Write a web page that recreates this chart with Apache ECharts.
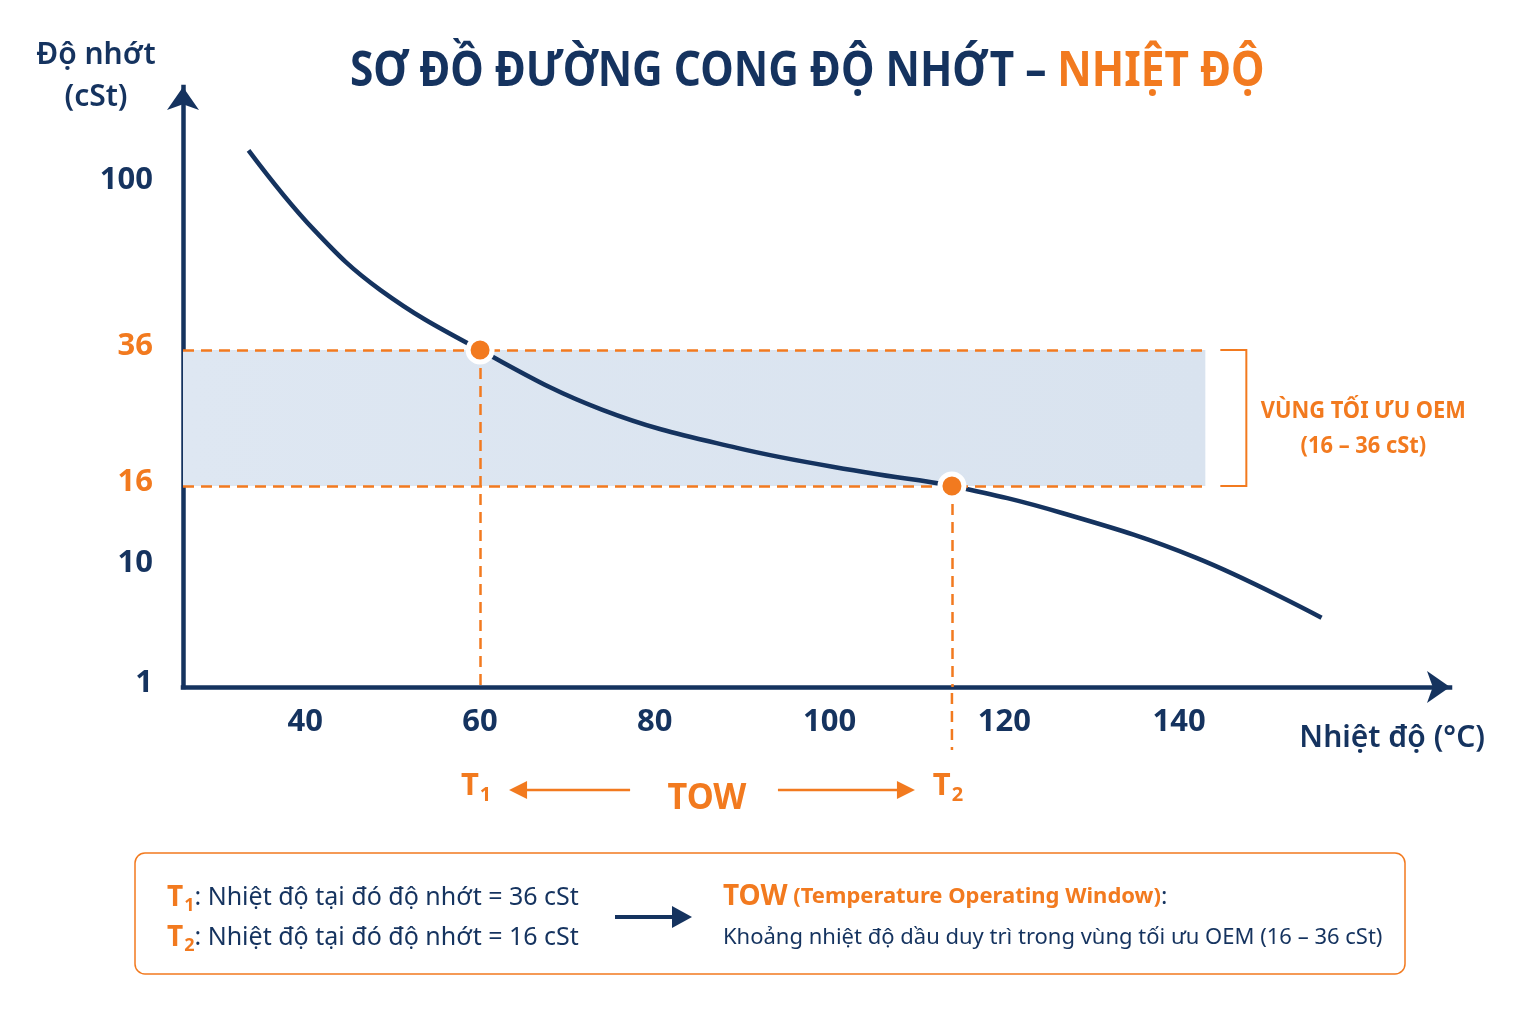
<!DOCTYPE html>
<html lang="vi">
<head>
<meta charset="utf-8">
<title>Sơ đồ đường cong độ nhớt – nhiệt độ</title>
<script src="https://cdn.jsdelivr.net/npm/echarts@6/dist/echarts.min.js"></script>
<style>
  html, body { margin: 0; padding: 0; background: #ffffff; }
  #chart { width: 1536px; height: 1024px; }
</style>
</head>
<body>
<div id="chart"></div>
<script>
// trục hoành: nhiệt độ (°C)
const tempTicks = [40, 60, 80, 100, 120, 140];
// trục tung: nhãn độ nhớt (cSt) và thang sơ đồ (không tuyến tính)
const viscTicks = [1, 10, 16, 36, 100];
const viscScale = [0, 1.2, 2.01, 3.37, 5.03];

// đường cong độ nhớt – nhiệt độ
const curveTemp = [33.5, 41, 48.6, 60, 74, 89.4, 104.6, 114, 126.6, 141.9, 156.3];
const curveVisc = [113, 82.3, 59.1, 36, 27.2, 21.6, 17.9, 16, 14, 10.7, 6.2];

// vùng tối ưu OEM (cSt) và nhiệt độ kết thúc vùng tô
const oemRange = [16, 36];
const oemBandEnd = 143;

// T1, T2
const tIndex = ['1', '2'];
const tTemps = [60, 114];
const tVisc = [36, 16];

const NAVY = '#15335f';
const ORANGE = '#f27a1f';
const FONT = 'Noto Sans';
const X_MIN = 26, X_MAX = 171;

// độ nhớt -> vị trí trên thang sơ đồ (nội suy tuyến tính từng đoạn giữa các nhãn)
const toScale = v => {
  let i = 0;
  while (i < viscTicks.length - 2 && v > viscTicks[i + 1]) i++;
  const v0 = viscTicks[i], v1 = viscTicks[i + 1];
  return viscScale[i] + (v - v0) / (v1 - v0) * (viscScale[i + 1] - viscScale[i]);
};

const curveData = curveTemp.map((t, i) => [t, toScale(curveVisc[i])]);
const dashStyle = { color: ORANGE, width: 2.5, type: [11, 7] };

const option = {
  backgroundColor: '#ffffff',
  animation: false,
  textStyle: { fontFamily: FONT },
  grid: { left: 183, right: 86, top: 87, bottom: 337 },
  xAxis: {
    type: 'value',
    min: X_MIN,
    max: X_MAX,
    name: 'Nhiệt độ (°C)',
    nameLocation: 'end',
    nameGap: 35,
    nameTextStyle: {
      color: NAVY, fontSize: 30, fontWeight: 600, fontFamily: FONT,
      align: 'right', verticalAlign: 'top', padding: [36, 0, 0, 0]
    },
    axisLine: {
      onZero: false,
      symbol: ['none', 'arrow'],
      symbolSize: [24, 23],
      lineStyle: { color: NAVY, width: 4.5, cap: 'square' }
    },
    axisTick: { show: false },
    splitLine: { show: false },
    axisLabel: {
      customValues: tempTicks,
      margin: 20,
      color: NAVY,
      fontSize: 31,
      fontWeight: 'bold'
    }
  },
  yAxis: {
    type: 'value',
    min: 0,
    max: 6,
    name: 'Độ nhớt\n(cSt)',
    nameLocation: 'end',
    nameGap: 11,
    nameTextStyle: {
      color: NAVY, fontSize: 30, fontWeight: 600, fontFamily: FONT, lineHeight: 42,
      align: 'center', verticalAlign: 'middle', padding: [0, 174, 0, 0]
    },
    axisLine: {
      onZero: false,
      symbol: ['none', 'arrow'],
      symbolSize: [24, 23],
      lineStyle: { color: NAVY, width: 4.5, cap: 'square' }
    },
    axisTick: { show: false },
    splitLine: { show: false },
    axisLabel: {
      customValues: viscScale,
      margin: 30,
      padding: [0, 0, 7, 0],
      formatter: val => {
        const i = viscScale.findIndex(s => Math.abs(s - val) < 1e-6);
        if (i < 0) return '';
        const v = viscTicks[i];
        return oemRange.includes(v) ? `{o|${v}}` : `{n|${v}}`;
      },
      rich: {
        n: { color: NAVY, fontSize: 31, fontWeight: 'bold', fontFamily: FONT },
        o: { color: ORANGE, fontSize: 31, fontWeight: 'bold', fontFamily: FONT }
      }
    }
  },
  series: [
    {
      type: 'line',
      name: 'Độ nhớt',
      data: curveData,
      smooth: 0.4,
      symbol: 'none',
      z: 3,
      lineStyle: { color: NAVY, width: 4.5 },
      markArea: {
        silent: true,
        itemStyle: {
          color: new echarts.graphic.LinearGradient(0, 0, 1, 0, [
            { offset: 0, color: '#dee7f2' },
            { offset: 1, color: '#d9e3ef' }
          ])
        },
        data: [[
          { coord: [X_MIN, toScale(oemRange[0])] },
          { coord: [oemBandEnd, toScale(oemRange[1])] }
        ]]
      },
      markLine: {
        silent: true,
        symbol: ['none', 'none'],
        label: { show: false },
        lineStyle: dashStyle,
        data: [
          [{ coord: [X_MIN, toScale(oemRange[1])] }, { coord: [oemBandEnd, toScale(oemRange[1])] }],
          [{ coord: [X_MIN, toScale(oemRange[0])] }, { coord: [oemBandEnd, toScale(oemRange[0])] }],
          [{ coord: [tTemps[0], toScale(tVisc[0])] }, { coord: [tTemps[0], 0] }],
          [{ coord: [tTemps[1], toScale(tVisc[1])] }, { coord: [tTemps[1], 0] }]
        ]
      }
    },
    {
      type: 'scatter',
      name: 'T',
      z: 5,
      symbolSize: 24,
      itemStyle: { color: ORANGE, borderColor: '#ffffff', borderWidth: 5, opacity: 1 },
      data: tTemps.map((t, i) => [t, toScale(tVisc[i])])
    }
  ]
};

const chart = echarts.init(document.getElementById('chart'));
chart.setOption(option);

// chú thích: vị trí lấy từ thang trục của biểu đồ
const px = (x, y) => chart.convertToPixel({ gridIndex: 0 }, [x, y]);
const [t1x, y36] = px(tTemps[0], toScale(oemRange[1]));
const [t2x, y16] = px(tTemps[1], toScale(oemRange[0]));
const [, axisY] = px(X_MIN, 0);
const [bandX] = px(oemBandEnd, 0);

const rowY = 790;
const arrowHead = (tipX, y, dir, color, len, half) => ({
  type: 'polygon',
  shape: { points: [[tipX, y], [tipX - dir * len, y - half], [tipX - dir * len, y + half]] },
  style: { fill: color }
});

const graphics = [
  // tiêu đề
  {
    type: 'text',
    x: 350,
    y: 72,
    scaleX: 0.883,
    style: {
      text: '{a|SƠ ĐỒ ĐƯỜNG CONG ĐỘ NHỚT – }{b|NHIỆT ĐỘ}',
      verticalAlign: 'middle',
      rich: {
        a: { fill: NAVY, font: `bold 48px "${FONT}"` },
        b: { fill: ORANGE, font: `bold 48px "${FONT}"` }
      }
    }
  },
  // phần kéo dài của đường T2 dưới trục hoành
  {
    type: 'line',
    shape: { x1: t2x, y1: axisY + 6, x2: t2x, y2: 750 },
    style: { stroke: ORANGE, lineWidth: 2.5, lineDash: [11, 7] }
  },
  // nhãn T1, T2
  ...tIndex.map((n, i) => ({
    type: 'text',
    x: (i === 0 ? t1x : t2x) - 4,
    y: rowY - 4,
    style: {
      text: `{t|T}{s|${n}}`,
      align: 'center',
      verticalAlign: 'middle',
      rich: {
        t: { fill: ORANGE, font: `bold 31px "${FONT}"`, height: 40 },
        s: { fill: ORANGE, font: `bold 20px "${FONT}"`, height: 40, padding: [18, 0, 0, 1] }
      }
    }
  })),
  // mũi tên TOW
  { type: 'line', shape: { x1: t1x + 45, y1: rowY, x2: t1x + 150, y2: rowY }, style: { stroke: ORANGE, lineWidth: 2.5 } },
  arrowHead(t1x + 29, rowY, -1, ORANGE, 18, 9),
  { type: 'line', shape: { x1: t2x - 174, y1: rowY, x2: t2x - 52, y2: rowY }, style: { stroke: ORANGE, lineWidth: 2.5 } },
  arrowHead(t2x - 37, rowY, 1, ORANGE, 18, 9),
  {
    type: 'text',
    x: (t1x + t2x) / 2 - 9,
    y: rowY + 9,
    scaleX: 0.95,
    style: { text: 'TOW', fill: ORANGE, font: `bold 36px "${FONT}"`, align: 'center', verticalAlign: 'middle' }
  },
  // ngoặc vùng tối ưu OEM
  {
    type: 'polyline',
    shape: { points: [[bandX + 15, y36], [bandX + 41, y36], [bandX + 41, y16], [bandX + 15, y16]] },
    style: { stroke: ORANGE, lineWidth: 2, fill: null }
  },
  {
    type: 'text',
    x: bandX + 158,
    y: (y36 + y16) / 2 + 11,
    scaleX: 0.91,
    style: {
      text: 'VÙNG TỐI ƯU OEM\n(16 – 36 cSt)', fill: ORANGE, font: `bold 24px "${FONT}"`,
      lineHeight: 35, align: 'center', verticalAlign: 'middle'
    }
  },
  // hộp chú giải
  {
    type: 'rect',
    shape: { x: 135, y: 853, width: 1270, height: 121, r: 10 },
    style: { fill: '#ffffff', stroke: ORANGE, lineWidth: 1.5 }
  },
  ...tIndex.map((n, i) => ({
    type: 'text',
    x: 167,
    y: 898 + i * 40,
    style: {
      text: `{o|T}{s|${n}}{n|: Nhiệt độ tại đó độ nhớt = ${tVisc[i]} cSt}`,
      verticalAlign: 'middle',
      rich: {
        o: { fill: ORANGE, font: `bold 28px "${FONT}"`, height: 36 },
        s: { fill: ORANGE, font: `bold 18px "${FONT}"`, height: 36, padding: [16, 0, 0, 1] },
        n: { fill: NAVY, font: `25px "${FONT}"`, height: 36 }
      }
    }
  })),
  { type: 'line', shape: { x1: 615, y1: 917, x2: 676, y2: 917 }, style: { stroke: NAVY, lineWidth: 4 } },
  arrowHead(692, 917, 1, NAVY, 20, 11),
  {
    type: 'text',
    x: 723,
    y: 897,
    style: {
      text: '{o|TOW}{p| (Temperature Operating Window)}{n|:}',
      verticalAlign: 'middle',
      rich: {
        o: { fill: ORANGE, font: `bold 28px "${FONT}"` },
        p: { fill: ORANGE, font: `bold 22px "${FONT}"` },
        n: { fill: NAVY, font: `24px "${FONT}"` }
      }
    }
  },
  {
    type: 'text',
    x: 723,
    y: 938,
    style: {
      text: 'Khoảng nhiệt độ dầu duy trì trong vùng tối ưu OEM (16 – 36 cSt)',
      fill: NAVY, font: `22px "${FONT}"`, verticalAlign: 'middle'
    }
  }
];

chart.setOption({ graphic: graphics });
</script>
</body>
</html>
